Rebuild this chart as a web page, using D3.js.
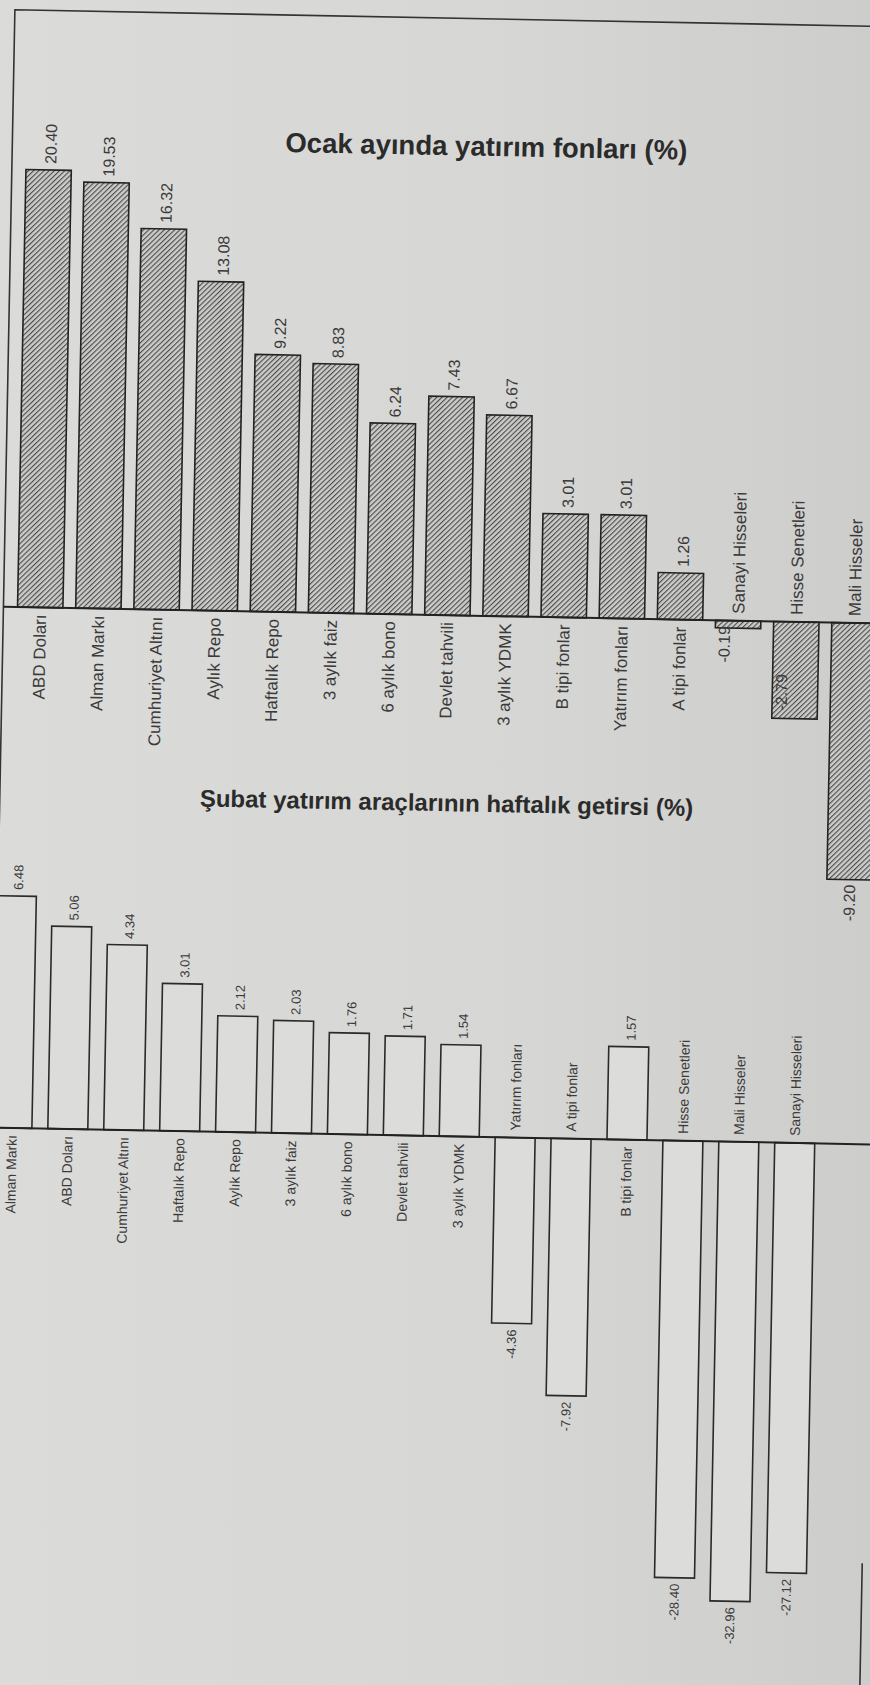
<!DOCTYPE html>
<html><head><meta charset="utf-8">
<script src="https://cdn.jsdelivr.net/npm/d3@7"></script>
<style>html,body{margin:0;padding:0;background:#d8d8d6;}svg{display:block}</style>
</head><body>
<svg id="c" width="870" height="1685"></svg>
<script>
// ---- data ----
const title1 = "Ocak ayında yatırım fonları (%)";
const categories1 = ["ABD Doları","Alman Markı","Cumhuriyet Altını","Aylık Repo","Haftalık Repo","3 aylık faiz","6 aylık bono","Devlet tahvili","3 aylık YDMK","B tipi fonlar","Yatırım fonları","A tipi fonlar","Sanayi Hisseleri","Hisse Senetleri","Mali Hisseler"];
const values1 = [20.40,19.53,16.32,13.08,9.22,8.83,6.24,7.43,6.67,3.01,3.01,1.26,-0.19,-2.79,-9.20];

const title2 = "Şubat yatırım araçlarının haftalık getirsi (%)";
const categories2 = ["Alman Markı","ABD Doları","Cumhuriyet Altını","Haftalık Repo","Aylık Repo","3 aylık faiz","6 aylık bono","Devlet tahvili","3 aylık YDMK","Yatırım fonları","A tipi fonlar","B tipi fonlar","Hisse Senetleri","Mali Hisseler","Sanayi Hisseleri"];
const values2 = [6.48,5.06,4.34,3.01,2.12,2.03,1.76,1.71,1.54,-4.36,-7.92,1.57,-28.40,-32.96,-27.12];

const fmt = d3.formatLocale({decimal:".", thousands:",", grouping:[3], currency:["",""], minus:"-"}).format(".2f");
const FONT = "'Liberation Sans', Arial, Helvetica, sans-serif";

const svg = d3.select("#c");
const defs = svg.append("defs");
const grad = defs.append("linearGradient").attr("id","paper").attr("x1","0").attr("x2","1").attr("y1","0").attr("y2","0");
grad.append("stop").attr("offset","0").attr("stop-color","#dbdbd9");
grad.append("stop").attr("offset","0.6").attr("stop-color","#d6d6d4");
grad.append("stop").attr("offset","1").attr("stop-color","#cdcdcb");
svg.append("rect").attr("width",870).attr("height",1685).attr("fill","url(#paper)");

const pat = defs.append("pattern").attr("id","hatch").attr("patternUnits","userSpaceOnUse")
  .attr("width",3.6).attr("height",3.6).attr("patternTransform","rotate(45)");
pat.append("rect").attr("width",3.6).attr("height",3.6).attr("fill","#cbcbc9");
pat.append("line").attr("x1",0.5).attr("x2",0.5).attr("y1",0).attr("y2",3.6).attr("stroke","#4a4a4a").attr("stroke-width",1.2);

const g = svg.append("g").attr("transform","rotate(1.1,435,842)");

// frame
g.append("path").attr("d","M-1,1720 L-1,18 L900,18").attr("fill","none").attr("stroke","#333").attr("stroke-width",1.6);
g.append("line").attr("x1",876).attr("x2",876).attr("y1",1555).attr("y2",1720).attr("stroke","#333").attr("stroke-width",1.6);

function vlabel(sel, x, y, anchor, size, txt){
  sel.append("text").attr("transform",`translate(${x},${y}) rotate(-90)`)
    .attr("text-anchor",anchor).attr("dy","0.35em").attr("font-family",FONT)
    .attr("font-size",size).attr("fill","#3a3a3a").text(txt);
}

// ---- chart 1 ----
const base1 = 615;
const x1 = d3.scaleBand().domain(categories1).range([6.7, 879.3]).paddingInner(0.22).paddingOuter(0.11);
const y1 = d3.scaleSymlog().constant(10).domain([0, d3.max(values1)]).range([base1, 177.5]);
const d1 = categories1.map((c,i)=>({c, v: values1[i]}));

g.append("text").attr("x",272).attr("y",155).attr("font-family",FONT).attr("font-weight","bold")
  .attr("font-size",27.5).attr("fill","#2b2b2b").text(title1);

g.selectAll(".b1").data(d1).join("rect").attr("class","b1")
  .attr("x",d=>x1(d.c)).attr("width",x1.bandwidth())
  .attr("y",d=>Math.min(y1(0),y1(d.v))).attr("height",d=>Math.abs(y1(d.v)-y1(0)))
  .attr("fill","url(#hatch)").attr("stroke","#222").attr("stroke-width",1.6);

g.append("line").attr("x1",-1).attr("x2",900).attr("y1",base1).attr("y2",base1).attr("stroke","#222").attr("stroke-width",2);

d1.forEach(d=>{
  const bx = x1(d.c), cx = bx + x1.bandwidth()/2;
  const h = Math.abs(y1(d.v)-y1(0));
  if (d.v >= 0) {
    vlabel(g, cx+2, y1(d.v)-6, "start", 16, fmt(d.v));
    vlabel(g, cx, base1+7, "end", 17, d.c);
  } else {
    if (h < 150) vlabel(g, bx+9, Math.max(y1(d.v)-8, base1+42), "start", 16, fmt(d.v));
    else vlabel(g, cx, y1(d.v)+5, "end", 16, fmt(d.v));
    vlabel(g, cx, base1-7, "start", 17, d.c);
  }
});

// ---- chart 2 ----
const base2 = 1136;
const x2 = d3.scaleBand().domain(categories2).range([-10.5, 828.4]).paddingInner(0.285).paddingOuter(0.1425);
const y2 = d3.scaleSymlog().constant(2).domain([0, -28.40]).range([base2, 1573]);
const d2 = categories2.map((c,i)=>({c, v: values2[i]}));

g.append("text").attr("x",199).attr("y",811).attr("font-family",FONT).attr("font-weight","bold")
  .attr("font-size",24).attr("fill","#2b2b2b").text(title2);

g.selectAll(".b2").data(d2).join("rect").attr("class","b2")
  .attr("x",d=>x2(d.c)).attr("width",x2.bandwidth())
  .attr("y",d=>Math.min(y2(0),y2(d.v))).attr("height",d=>Math.abs(y2(d.v)-y2(0)))
  .attr("fill","#dcdcda").attr("stroke","#2a2a2a").attr("stroke-width",1.6);

g.append("line").attr("x1",-20).attr("x2",900).attr("y1",base2).attr("y2",base2).attr("stroke","#222").attr("stroke-width",2);

d2.forEach(d=>{
  const cx = x2(d.c) + x2.bandwidth()/2;
  if (d.v >= 0) {
    vlabel(g, cx+2, y2(d.v)-6, "start", 13, fmt(d.v));
    vlabel(g, cx, base2+7, "end", 14, d.c);
  } else {
    vlabel(g, cx, y2(d.v)+6, "end", 13, fmt(d.v));
    vlabel(g, cx, base2-7, "start", 14, d.c);
  }
});
</script>
</body></html>
